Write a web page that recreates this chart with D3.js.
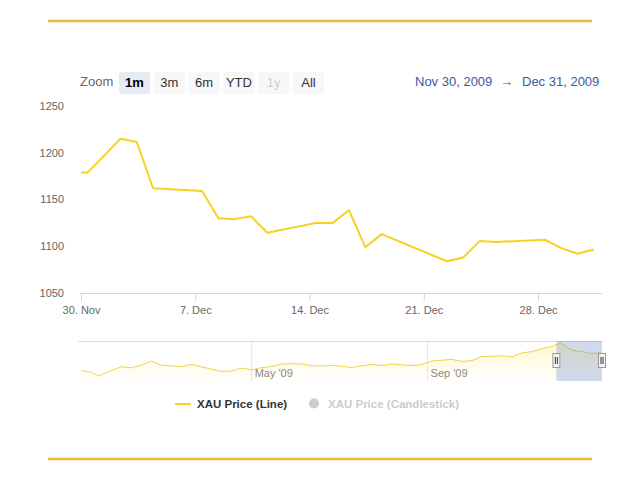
<!DOCTYPE html>
<html lang="en">
<head>
<meta charset="utf-8">
<title>XAU Price</title>
<script src="https://cdnjs.cloudflare.com/ajax/libs/d3/7.8.5/d3.min.js"></script>
<style>
  body { margin: 0; background: #fff; }
  svg { display: block; font-family: "Liberation Sans", Arial, sans-serif; }
  .ylab, .xlab { font-size: 11px; fill: #666; }
  .btn-text { font-size: 13px; fill: #333; }
  .range-date { font-size: 13px; fill: #3b5a9f; }
  .nav-lab { font-size: 11px; fill: #888; }
  .legend { font-size: 11.5px; font-weight: bold; }
</style>
</head>
<body>
<svg id="chart" width="640" height="480"></svg>
<script>
// main series, Nov 30 - Dec 31 2009
var mainDates = ["2009-11-30T00:00", "2009-11-30T10:00", "2009-12-02T10:00", "2009-12-03T10:00",
  "2009-12-04T10:00", "2009-12-07T10:00", "2009-12-08T10:00", "2009-12-09T10:00",
  "2009-12-10T10:00", "2009-12-11T10:00", "2009-12-14T10:00", "2009-12-15T10:00",
  "2009-12-16T10:00", "2009-12-17T10:00", "2009-12-18T10:00", "2009-12-22T10:00",
  "2009-12-23T10:00", "2009-12-24T10:00", "2009-12-25T10:00", "2009-12-28T10:00",
  "2009-12-29T10:00", "2009-12-30T10:00", "2009-12-31T10:00"];
var mainValues = [1179, 1179, 1215, 1211.5, 1162, 1159, 1130, 1129, 1132, 1114.5, 1125, 1125,
  1138.5, 1099, 1113, 1084, 1088, 1105.5, 1104.5, 1107, 1098, 1092, 1096.5];

// navigator series, whole 2009
var navDates = ["2009-01-02", "2009-01-09", "2009-01-14", "2009-01-23", "2009-01-30", "2009-02-06",
  "2009-02-13", "2009-02-20", "2009-02-27", "2009-03-06", "2009-03-13", "2009-03-20",
  "2009-03-27", "2009-04-03", "2009-04-09", "2009-04-17", "2009-04-24", "2009-05-01",
  "2009-05-08", "2009-05-15", "2009-05-22", "2009-05-29", "2009-06-05", "2009-06-12",
  "2009-06-19", "2009-06-26", "2009-07-03", "2009-07-10", "2009-07-17", "2009-07-24",
  "2009-07-31", "2009-08-07", "2009-08-14", "2009-08-21", "2009-08-28", "2009-09-04",
  "2009-09-11", "2009-09-18", "2009-09-25", "2009-10-02", "2009-10-09", "2009-10-16",
  "2009-10-23", "2009-10-30", "2009-11-06", "2009-11-13", "2009-11-20", "2009-11-27",
  "2009-12-03", "2009-12-11", "2009-12-18", "2009-12-24", "2009-12-31"];
var navValues = [878, 858, 812, 880, 925, 912, 945, 995, 942, 936, 925, 955,
  922, 897, 870, 872, 908, 888, 915, 928, 958, 962, 958, 937,
  935, 940, 932, 915, 938, 953, 940, 958, 948, 940, 952, 995,
  1005, 1015, 990, 1000, 1050, 1052, 1058, 1045, 1095, 1110, 1147, 1175,
  1215, 1125, 1112, 1088, 1096];

var yTicks = [1050, 1100, 1150, 1200, 1250];
var rangeButtons = ["1m", "3m", "6m", "YTD", "1y", "All"];
var navTickLabels = ["May '09", "Sep '09"];
var navTickDates = ["2009-05-01", "2009-09-01"];
var legendItems = ["XAU Price (Line)", "XAU Price (Candlestick)"];

var parse = d3.isoParse;
var gold = "#f5d21e";
var svg = d3.select("#chart");

// decorative gold rules
svg.append("line").attr("x1", 48).attr("x2", 592).attr("y1", 21).attr("y2", 21)
  .attr("stroke", "#e9b93a").attr("stroke-width", 2.5);
svg.append("line").attr("x1", 48).attr("x2", 592).attr("y1", 459).attr("y2", 459)
  .attr("stroke", "#e9b93a").attr("stroke-width", 2.5);

// range selector
svg.append("text").attr("class", "btn-text").attr("x", 80).attr("y", 86)
  .style("fill", "#666").text("Zoom");

var btn = svg.selectAll(".btn").data(rangeButtons).enter().append("g")
  .attr("class", "btn")
  .attr("transform", function(d, i) { return "translate(" + (119 + i * 34.8) + ",72)"; });
btn.append("rect").attr("width", 31).attr("height", 22).attr("rx", 2)
  .attr("fill", function(d) { return d == "1m" ? "#e6ebf5" : "#f7f7f7"; });
btn.append("text").attr("class", "btn-text").attr("x", 15.5).attr("y", 15)
  .attr("text-anchor", "middle")
  .style("font-weight", function(d) { return d == "1m" ? "bold" : "normal"; })
  .style("fill", function(d) { return d == "1m" ? "#000" : (d == "1y" ? "#ccc" : "#333"); })
  .text(function(d) { return d; });

var fmtRange = d3.timeFormat("%b %-d, %Y");
svg.append("text").attr("class", "range-date").attr("x", 415).attr("y", 86)
  .text(fmtRange(parse(mainDates[0])));
svg.append("text").attr("class", "range-date").attr("x", 500).attr("y", 86)
  .text("\u2192");
svg.append("text").attr("class", "range-date").attr("x", 522).attr("y", 86)
  .text(fmtRange(parse(mainDates[mainDates.length - 1])));

// main chart
var x = d3.scaleTime()
  .domain([new Date(2009, 10, 30), new Date(2009, 11, 31, 22)])
  .range([81, 602]);
var y = d3.scaleLinear().domain([1050, 1250]).range([293, 106]);

svg.selectAll(".ylab").data(yTicks).enter().append("text")
  .attr("class", "ylab")
  .attr("x", 64).attr("y", function(d) { return y(d); })
  .attr("dy", "0.35em").attr("text-anchor", "end")
  .text(function(d) { return d; });

var xAxis = svg.append("g").attr("transform", "translate(0,293)")
  .call(d3.axisBottom(x).ticks(d3.timeMonday.every(1)).tickSize(8).tickPadding(5)
    .tickFormat(d3.timeFormat("%-d. %b")));
xAxis.select(".domain").attr("stroke", "#ccd6eb").attr("d", "M80,0.5H602");
xAxis.selectAll(".tick line").attr("stroke", "#ccd6eb");
xAxis.selectAll(".tick text").attr("class", "xlab").attr("fill", null)
  .style("font-family", "Liberation Sans, Arial, sans-serif").style("font-size", "11px");

var mainData = mainDates.map(function(d, i) { return { date: parse(d), value: mainValues[i] }; });
svg.append("path").datum(mainData)
  .attr("fill", "none").attr("stroke", gold).attr("stroke-width", 2)
  .attr("stroke-linejoin", "round")
  .attr("d", d3.line().x(function(d) { return x(d.date); }).y(function(d) { return y(d.value); }));

// navigator
var navTop = 341, navBottom = 381;
var nx = d3.scaleTime()
  .domain([new Date(2009, 0, 1), new Date(2009, 11, 31, 22)])
  .range([80, 602]);
var ny = d3.scaleLinear().domain([812, 1215]).range([376, 343]);
var navData = navDates.map(function(d, i) { return { date: parse(d), value: navValues[i] }; });

var defs = svg.append("defs");
var grad = defs.append("linearGradient").attr("id", "navfill")
  .attr("x1", 0).attr("y1", 0).attr("x2", 0).attr("y2", 1);
grad.append("stop").attr("offset", "0%").attr("stop-color", "#fff2b0").attr("stop-opacity", 0.7);
grad.append("stop").attr("offset", "100%").attr("stop-color", "#fffbe8").attr("stop-opacity", 0.2);

svg.append("path").datum(navData).attr("fill", "url(#navfill)")
  .attr("d", d3.area().x(function(d) { return nx(d.date); })
    .y0(navBottom).y1(function(d) { return ny(d.value); }));

svg.selectAll(".navgrid").data(navTickDates).enter().append("line")
  .attr("x1", function(d) { return nx(parse(d)); }).attr("x2", function(d) { return nx(parse(d)); })
  .attr("y1", navTop).attr("y2", navBottom).attr("stroke", "#e6e6e6");
svg.selectAll(".nav-lab").data(navTickDates).enter().append("text")
  .attr("class", "nav-lab")
  .attr("x", function(d) { return nx(parse(d)) + 3; }).attr("y", 377)
  .text(function(d, i) { return navTickLabels[i]; });

svg.append("path").datum(navData)
  .attr("fill", "none").attr("stroke", "#f0d448").attr("stroke-width", 1)
  .attr("d", d3.line().x(function(d) { return nx(d.date); }).y(function(d) { return ny(d.value); }));

svg.append("line").attr("x1", 78).attr("x2", 603).attr("y1", navTop + 0.5).attr("y2", navTop + 0.5)
  .attr("stroke", "#dcdcdc");

var m0 = nx(parse(mainDates[0])), m1 = 602;
svg.append("rect").attr("x", m0).attr("y", navTop).attr("width", m1 - m0)
  .attr("height", navBottom - navTop).attr("fill", "rgba(102,133,194,0.3)");

[m0, m1].forEach(function(hx) {
  var h = svg.append("g").attr("transform", "translate(" + (hx - 4) + ",353)");
  h.append("rect").attr("x", 0.5).attr("y", 0.5).attr("width", 7).attr("height", 14)
    .attr("fill", "#f2f2f2").attr("stroke", "#999");
  h.append("line").attr("x1", 3).attr("x2", 3).attr("y1", 4).attr("y2", 11).attr("stroke", "#333");
  h.append("line").attr("x1", 5).attr("x2", 5).attr("y1", 4).attr("y2", 11).attr("stroke", "#333");
});

// legend
svg.append("line").attr("x1", 175).attr("x2", 191).attr("y1", 404).attr("y2", 404)
  .attr("stroke", gold).attr("stroke-width", 2);
svg.append("text").attr("class", "legend").attr("x", 197).attr("y", 408)
  .style("fill", "#333").text(legendItems[0]);
svg.append("circle").attr("cx", 314).attr("cy", 403.5).attr("r", 5).attr("fill", "#ccc");
svg.append("text").attr("class", "legend").attr("x", 328).attr("y", 408)
  .style("fill", "#ccc").text(legendItems[1]);
</script>
</body>
</html>
